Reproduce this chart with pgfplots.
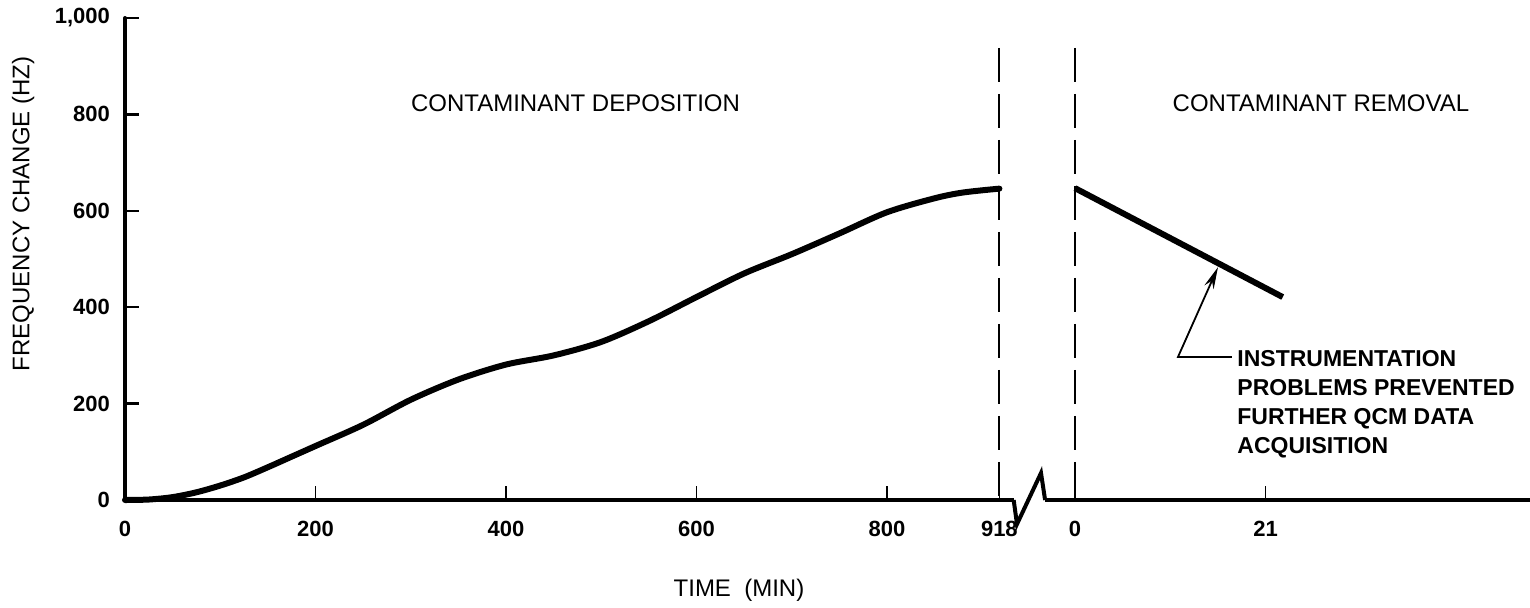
\documentclass[border=0pt]{standalone}
\usepackage{fontspec}
\setmainfont{Liberation Sans}
\usepackage{pgfplots}
\usepackage{pgfplotstable}
\pgfplotsset{compat=1.18}
\usetikzlibrary{arrows.meta}

\pgfplotstableread{
t v
0 0
25 1
50 6
75 16
100 30
125 47
150 68
175 90
200 112
250 156
300 208
350 250
400 281
450 300
500 328
550 371
600 421
650 470
700 510
750 553
800 597
850 626
880 638
918 646
}\deposition

\pgfplotstableread{
t v
0 647
22.9 421
}\removal

\begin{document}
\begin{tikzpicture}
\useasboundingbox (-62.5pt,-53.5pt) rectangle (702.5pt,250pt);
\begin{axis}[
  at={(0pt,0pt)}, anchor=south west,
  scale only axis, width=702.5pt, height=241pt,
  xmin=0, xmax=1475.1, ymin=0, ymax=1000,
  axis x line=bottom, axis y line=left,
  axis line style={-, line width=2pt, line cap=round},
  tick align=inside, major tick length=7pt,
  xtick={0,200,400,600,800,918,997.4,1197.4},
  xticklabels={0,200,400,600,800,918,0,21},
  ytick={0,200,400,600,800,1000},
  yticklabels={0,200,400,600,800,{1,000}},
  xtick style={line width=0.8pt, black},
  ytick style={line width=1.2pt, black},
  ticklabel style={font=\fontsize{11}{13}\selectfont\bfseries},
  xticklabel style={yshift=-7pt},
  yticklabel style={xshift=-4pt},
  xlabel={TIME\ \ (MIN)},
  ylabel={FREQUENCY CHANGE (HZ)},
  label style={font=\fontsize{12}{14}\selectfont},
  xlabel style={at={(axis description cs:0.437,-0.1867)}, anchor=center},
  ylabel style={at={(axis description cs:-0.0725,0.594)}, anchor=center, rotate=0},
  clip=false,
]
\addplot[line width=3pt, smooth, line cap=round] table[x=t, y=v] {\deposition};
\addplot[line width=3pt] table[x expr=997.4+9.524*\thisrow{t}, y=v] {\removal};

% separators between the two phases
\draw[line width=1pt, dash pattern=on 17pt off 6pt] (axis cs:918,938) -- (axis cs:918,0);
\draw[line width=1pt, dash pattern=on 17pt off 6pt] (axis cs:997.4,938) -- (axis cs:997.4,0);

% axis break
\fill[white] (axis cs:933.8,-15) rectangle (axis cs:965.6,15);
\draw[line width=2pt, line join=miter] (axis cs:933,0) -- (axis cs:936.5,-50) -- (axis cs:961.7,56) -- (axis cs:966,0);

% annotation
\draw[line width=0.9pt, -{Stealth[length=11pt,width=5pt]}] (axis cs:1162,296.7) -- (axis cs:1105.5,296.7) -- (axis cs:1147.5,483);
\node[anchor=north west, inner sep=0pt, align=left, font=\fontsize{11.5}{14.5}\selectfont\bfseries] at (axis cs:1167.5,311)
  {INSTRUMENTATION\\PROBLEMS PREVENTED\\FURTHER QCM DATA\\ACQUISITION};

\node[font=\fontsize{12}{14}\selectfont] at (axis cs:473,822.6) {CONTAMINANT DEPOSITION};
\node[font=\fontsize{12}{14}\selectfont] at (axis cs:1255.6,823.7) {CONTAMINANT REMOVAL};
\end{axis}
\end{tikzpicture}
\end{document}
